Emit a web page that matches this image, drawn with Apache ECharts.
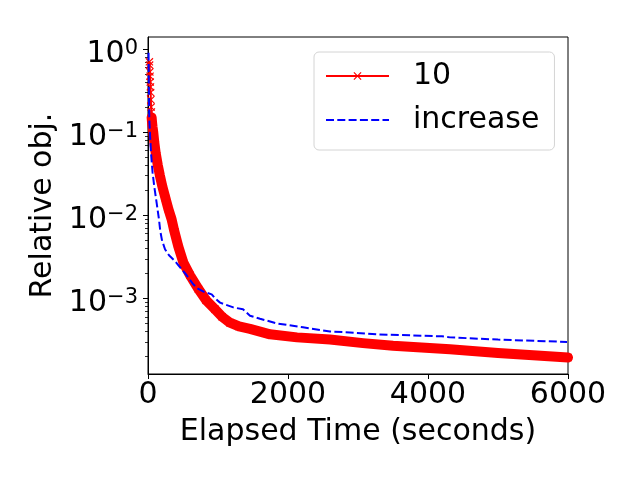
<!DOCTYPE html>
<html>
<head>
<meta charset="utf-8">
<script src="https://cdn.jsdelivr.net/npm/echarts@6/dist/echarts.min.js"></script>
<style>html,body{margin:0;padding:0;background:#fff}#c{width:640px;height:480px}</style>
</head>
<body>
<div id="c"></div>
<script>
// Series "10": [elapsed seconds, relative objective]
const red10 = [
  [20,0.70],[23,0.64],[26,0.53],[29,0.47],[32,0.40],[35,0.35],[38,0.30],[41,0.245],
  [44,0.20],[48,0.175],[52,0.15],[58,0.13],[65,0.115],[75,0.1],[90,0.075],[110,0.056],
  [140,0.04],[170,0.03],[205,0.0222],[250,0.016],[290,0.012],[338,0.0089],[371,0.0067],
  [433,0.0042],[505,0.0027],[600,0.0019],[719,0.0013],[830,0.00095],[957,0.00074],
  [1060,0.0006],[1171,0.00051],[1300,0.00046],[1457,0.00043],[1743,0.00037],[2128,0.00034],
  [2600,0.00032],[3071,0.00029],[3500,0.00027],[4314,0.000245],[5000,0.00022],[6000,0.000195]
];
// Series "increase"
const increase = [
  [8,0.9],[12,0.4],[16,0.2],[19,0.14],[30,0.09],[43,0.056],[65,0.033],[90,0.022],[124,0.014],
  [157,0.0089],[175,0.0065],[200,0.005],[243,0.0039],[300,0.0033],[386,0.0028],[470,0.0023],
  [552,0.0019],[640,0.0015],[719,0.0013],[800,0.0012],[910,0.00112],[960,0.001],[1029,0.00089],
  [1219,0.00078],[1357,0.00074],[1457,0.00062],[1600,0.00057],[1843,0.0005],[2214,0.00045],
  [2600,0.0004],[2886,0.00039],[3271,0.00037],[4200,0.00035],[4314,0.00034],[5000,0.00032],[5986,0.0003]
];
const xTicks = [0, 2000, 4000, 6000];
const yMajorTicks = [0.001, 0.01, 0.1, 1];
const yMinorTicks = [];
[1e-4, 1e-3, 1e-2, 1e-1].forEach(function (d) {
  for (let k = 2; k <= 9; k++) { const v = +(k * d).toPrecision(3); if (v > 1.233e-4 && v < 1.394) yMinorTicks.push(v); }
});
const seriesNames = ['10', 'increase'];

const FONT = 'DejaVu Sans';
const X_SYMBOL = 'path://M0,1L1,0L5,4L9,0L10,1L6,5L10,9L9,10L5,6L1,10L0,9L4,5Z';
const chart = echarts.init(document.getElementById('c'));
const yMin = 1.233e-4, yMax = 1.394;

function supLabel(v) {
  const e = Math.round(Math.log10(v));
  return '{b|10}{s|' + (e < 0 ? '\u2212' + (-e) : String(e)) + '}';
}

chart.setOption({
  animation: false,
  backgroundColor: '#fff',
  grid: { left: 148, right: 72, top: 37, bottom: 106, show: true, borderColor: '#000', borderWidth: 1, backgroundColor: 'transparent' },
  legend: {
    data: [
      { name: seriesNames[0], lineStyle: { width: 2 } },
      { name: seriesNames[1], lineStyle: { width: 2 }, itemStyle: { opacity: 0 } }
    ],
    orient: 'vertical',
    left: 314, top: 52,
    padding: [9, 15, 15, 11],
    itemWidth: 63, itemHeight: 10, itemGap: 14,
    backgroundColor: '#fff', borderColor: '#d4d4d4', borderWidth: 1, borderRadius: 5,
    textStyle: { fontFamily: FONT, fontSize: 30, color: '#000', padding: [0, 0, 0, 19], lineHeight: 30 }
  },
  xAxis: {
    type: 'value', min: 0, max: 6000, interval: 2000,
    name: 'Elapsed Time (seconds)', nameLocation: 'middle', nameGap: 43,
    nameTextStyle: { fontFamily: FONT, fontSize: 30, color: '#000' },
    axisLine: { show: true, lineStyle: { color: '#000', width: 1 } },
    axisTick: { show: true, inside: false, length: 5, lineStyle: { color: '#000', width: 1 }, customValues: xTicks },
    axisLabel: { fontFamily: FONT, fontSize: 30, color: '#000', margin: 6, customValues: xTicks, formatter: function (v) { return String(v); } },
    splitLine: { show: false }
  },
  yAxis: [
    {
      type: 'log', min: yMin, max: yMax, logBase: 10, position: 'left',
      name: 'Relative obj.', nameLocation: 'middle', nameGap: 88,
      nameTextStyle: { fontFamily: FONT, fontSize: 30, color: '#000' },
      axisLine: { show: true, lineStyle: { color: '#000', width: 1 } },
      axisTick: { show: true, inside: false, length: 5, lineStyle: { color: '#000', width: 1 }, customValues: yMajorTicks },
      axisLabel: {
        margin: 10, customValues: yMajorTicks, formatter: supLabel,
        rich: {
          b: { fontFamily: FONT, fontSize: 30, lineHeight: 30, color: '#000', verticalAlign: 'top', padding: [5, 0, 0, 0] },
          s: { fontFamily: FONT, fontSize: 21, lineHeight: 21, color: '#000', verticalAlign: 'top', padding: [4, 0, 0, 0] }
        }
      },
      splitLine: { show: false }
    },
    {
      type: 'log', min: yMin, max: yMax, logBase: 10, position: 'left', offset: 0,
      axisLine: { show: false },
      axisTick: { show: true, inside: false, length: 3, lineStyle: { color: '#000', width: 0.8 }, customValues: yMinorTicks },
      axisLabel: { show: false },
      splitLine: { show: false }
    }
  ],
  series: [
    {
      name: 'band', type: 'line', yAxisIndex: 0, data: red10.slice(10), showSymbol: false, silent: true,
      lineStyle: { color: '#ff0000', width: 10, cap: 'round', join: 'round' }, itemStyle: { color: '#ff0000' }, z: 2
    },
    {
      name: seriesNames[0], type: 'line', yAxisIndex: 0, data: red10,
      symbol: X_SYMBOL, symbolSize: 8, showAllSymbol: true,
      lineStyle: { color: '#ff0000', width: 2 }, itemStyle: { color: '#ff0000' }, z: 3
    },
    {
      name: seriesNames[1], type: 'line', yAxisIndex: 0, data: increase,
      symbol: 'none',
      lineStyle: { color: '#0000ff', width: 2, type: [8, 3.3] }, itemStyle: { color: '#0000ff' }, z: 4
    }
  ]
});
</script>
</body>
</html>
